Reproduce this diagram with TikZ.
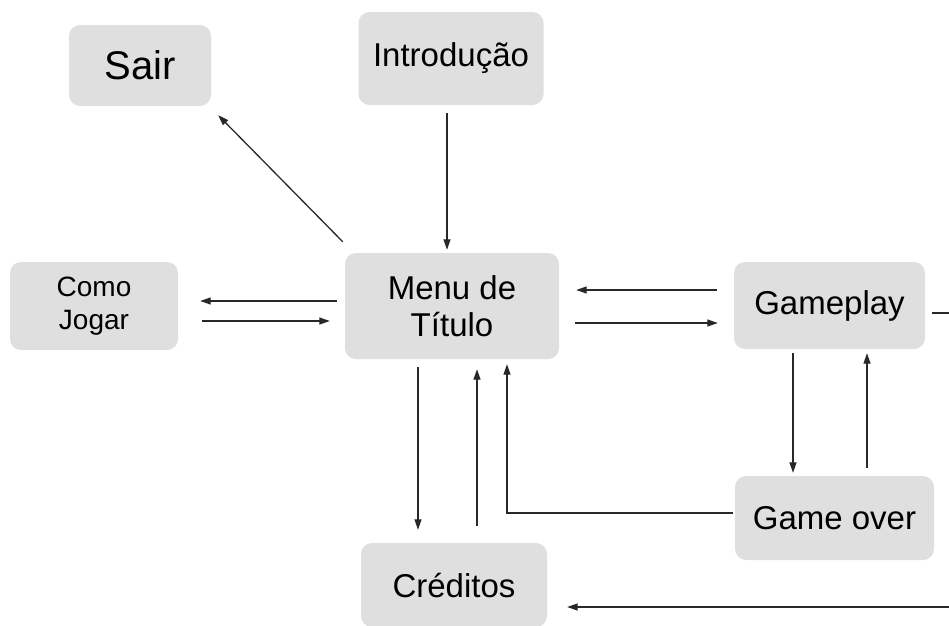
\documentclass[tikz,border=0pt]{standalone}
\usepackage{fontspec}
\setmainfont{Liberation Sans}
\usetikzlibrary{arrows.meta}
\definecolor{boxgray}{RGB}{223,223,223}
\definecolor{linegray}{RGB}{40,40,40}
\tikzset{
  stbox/.style={fill=boxgray, rounded corners=11pt, inner sep=0pt, align=center,
    font=\fontsize{33}{37}\selectfont, text=black},
  conn/.style={draw=linegray, line width=1.3pt, -{Triangle[length=10.5pt,width=7pt]}},
  plainline/.style={draw=linegray, line width=1.3pt}
}
\begin{document}
\begin{tikzpicture}[x=1pt,y=-1pt]
\useasboundingbox (0,0) rectangle (949,625);
\clip (0,0) rectangle (949,625);
\node[stbox, minimum width=142pt, minimum height=81pt, font=\fontsize{40}{44}\selectfont] (sair) at (140,65.5) {Sair};
\node[stbox, minimum width=185pt, minimum height=93pt] (intro) at (451,58.5) {Introdução};
\node[stbox, minimum width=214pt, minimum height=106pt] (menu) at (452,306) {Menu de\\Título};
\node[stbox, minimum width=168pt, minimum height=88pt, font=\fontsize{28}{33}\selectfont] (como) at (94,306) {Como\\Jogar};
\node[stbox, minimum width=191pt, minimum height=87pt] (game) at (829.5,305.5) {Gameplay};
\node[stbox, minimum width=199pt, minimum height=84pt] (over) at (834.5,518) {Game over};
\node[stbox, minimum width=186pt, minimum height=84pt] (cred) at (454,585) {Créditos};
\coordinate (gout) at (960,313);
\coordinate (cin) at (960,607);
% connectors
\draw[conn] ([shift={(-4,8)}]intro.south) -- ([shift={(-5,-3)}]menu.north);
\draw[conn] ([shift={(-2,-11)}]menu.north west) -- ([shift={(7,9)}]sair.south east);
\draw[conn] ([shift={(-8,-5)}]menu.west) -- ([shift={(22,-5)}]como.east);
\draw[conn] ([shift={(24,15)}]como.east) -- ([shift={(-15,15)}]menu.west);
\draw[conn] ([shift={(-17,-15.5)}]game.west) -- ([shift={(17,-16)}]menu.east);
\draw[conn] ([shift={(16,17)}]menu.east) -- ([shift={(-16,17.5)}]game.west);
\draw[conn] ([shift={(-36.5,4)}]game.south) -- ([shift={(-41.5,-3)}]over.north);
\draw[conn] ([shift={(32.5,-8)}]over.north) -- ([shift={(37.5,4)}]game.south);
\draw[conn] ([shift={(-34,8)}]menu.south) -- ([shift={(-36,-13)}]cred.north);
\draw[conn] ([shift={(23,-17)}]cred.north) -- ([shift={(25,10)}]menu.south);
\draw[conn] ([shift={(-2,-5)}]over.west) -| ([shift={(55,5)}]menu.south);
\draw[plainline] ([shift={(7,7.5)}]game.east) -- (gout);
\draw[conn] (cin) -- ([shift={(20,22)}]cred.east);
\end{tikzpicture}
\end{document}
